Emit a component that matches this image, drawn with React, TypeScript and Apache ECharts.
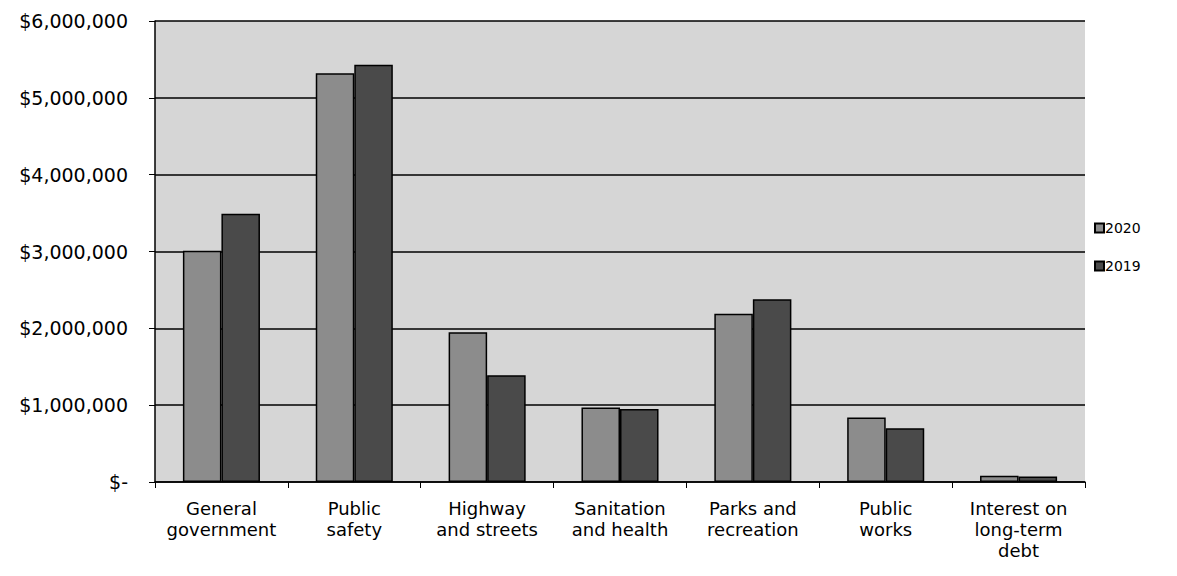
import React, { useEffect, useRef } from "react";
import * as echarts from "echarts";

// Expenditures by function, 2020 vs 2019
const categories = [
  "General\ngovernment",
  "Public\nsafety",
  "Highway\nand streets",
  "Sanitation\nand health",
  "Parks and\nrecreation",
  "Public\nworks",
  "Interest on\nlong-term\ndebt",
];
const values2020 = [3010000, 5320000, 1950000, 970000, 2190000, 840000, 80000];
const values2019 = [3490000, 5430000, 1390000, 950000, 2380000, 700000, 70000];
const seriesNames = ["2020", "2019"];

const FONT = "'DejaVu Sans', Arial, sans-serif";

function formatDollars(v: number): string {
  if (v === 0) return "$-";
  return "$" + v.toLocaleString("en-US");
}

export default function App() {
  const ref = useRef<HTMLDivElement>(null);

  useEffect(() => {
    if (!ref.current) return;
    const chart = echarts.init(ref.current, undefined, { renderer: "svg" });
    chart.setOption({
      animation: false,
      backgroundColor: "#ffffff",
      textStyle: { fontFamily: FONT },
      grid: {
        left: 155,
        right: 92,
        top: 21,
        bottom: 94,
        show: true,
        backgroundColor: "#d6d6d6",
        borderWidth: 0,
      },
      legend: {
        orient: "vertical",
        left: 1089,
        top: 216,
        itemWidth: 9,
        itemHeight: 9,
        itemGap: 24,
        icon: "rect",
        textStyle: { fontFamily: FONT, fontSize: 14, color: "#000", padding: [0, 0, 0, -4] },
        data: seriesNames,
      },
      xAxis: {
        type: "category",
        data: categories,
        axisLine: { show: true, lineStyle: { color: "#000", width: 1.5 } },
        axisTick: { show: true, alignWithLabel: false, length: 6, lineStyle: { color: "#000" } },
        axisLabel: {
          fontFamily: FONT,
          fontSize: 18,
          color: "#000",
          lineHeight: 21,
          margin: 16,
          interval: 0,
        },
      },
      yAxis: {
        type: "value",
        min: 0,
        max: 6000000,
        interval: 1000000,
        axisLine: { show: true, lineStyle: { color: "#000", width: 1.5 } },
        axisTick: { show: true, length: 6, inside: false, lineStyle: { color: "#000" } },
        splitLine: { show: true, lineStyle: { color: "#000", width: 1.5 } },
        axisLabel: {
          fontFamily: FONT,
          fontSize: 19,
          color: "#000",
          margin: 27,
          formatter: formatDollars,
        },
      },
      series: [
        {
          name: seriesNames[0],
          type: "bar",
          data: values2020,
          barGap: "0%",
          barCategoryGap: "42%",
          itemStyle: { color: "#8c8c8c", borderColor: "#000", borderWidth: 1.5 },
        },
        {
          name: seriesNames[1],
          type: "bar",
          data: values2019,
          barGap: "0%",
          barCategoryGap: "42%",
          itemStyle: { color: "#4a4a4a", borderColor: "#000", borderWidth: 1.5 },
        },
      ],
    });
    return () => chart.dispose();
  }, []);

  return (
    <div
      ref={ref}
      style={{ position: "fixed", left: 0, top: 0, width: 1177, height: 576 }}
    />
  );
}
